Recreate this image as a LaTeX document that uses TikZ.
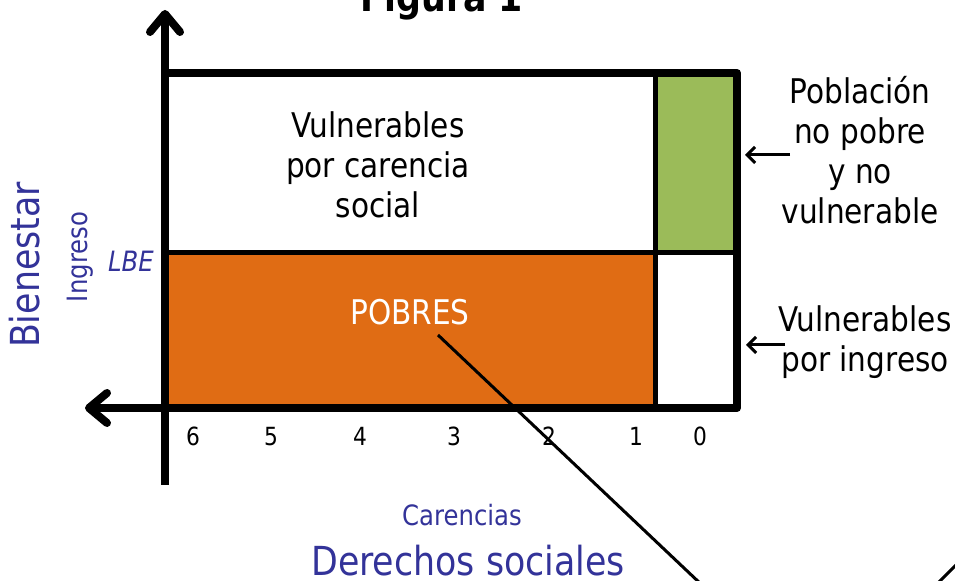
\documentclass[tikz,border=0pt]{standalone}
\usepackage{fontspec}
\setmainfont{DejaVu Sans}[FakeStretch=0.87]
\usepackage{tikz}
\usetikzlibrary{calc}
\usetikzlibrary{arrows.meta}
\usepackage{xcolor}
\definecolor{pobreorange}{RGB}{224,108,20}
\definecolor{nopobregreen}{RGB}{155,187,89}
\definecolor{ejeblue}{RGB}{51,51,153}

\begin{document}
\begin{tikzpicture}[x=0.5pt,y=-0.5pt,
  eje/.style={line width=4pt, -{Straight Barb[length=9pt,width=15pt,round]}},
  flecha/.style={line width=1.5pt, -{Straight Barb[length=4pt,width=8pt]}},
  etiqueta/.style={font=\fontsize{17}{20}\selectfont, align=center, inner sep=0pt},
  azulgrande/.style={text=ejeblue, font=\fontsize{20}{24}\selectfont, inner sep=0pt},
  azulchico/.style={text=ejeblue, font=\fontsize{14}{17}\selectfont, inner sep=0pt}]
\useasboundingbox (0,0) rectangle (955,581);
\clip (0,0) rectangle (955,581);

%%%%%%%%%%%%%%%%%%%%%%%%%%%%%%%%%%%%%%%%%%%%%%%%%%%%%%%%%%%%%% Setup
\coordinate (C) at (165,408);
\node[font=\bfseries\fontsize{20}{24}\selectfont, anchor=base] (titulo) at (442,12) {Figura 1};

%%%%%%%%%%%%%%%%%%%%%%%%%%%%%%%%%%%%%%%%%%%%%%%%%%%%%%%%%%%%%% Cuadrantes
\fill[pobreorange] ($(C)+(0,-155)$) rectangle ($(C)+(490,0)$);
\fill[nopobregreen] ($(C)+(490,-335)$) rectangle ($(C)+(572,-155)$);
\draw[line width=2.5pt] ($(C)+(0,-155)$) -- ($(C)+(572,-155)$);
\draw[line width=2.5pt] ($(C)+(490,-335)$) -- ($(C)+(490,0)$);
\draw[line width=4pt, line join=round] ($(C)+(0,-335)$) rectangle ($(C)+(572,0)$);

\node[etiqueta] (carencia) at ($(C)+(213,-243)$) {Vulnerables\\por carencia\\social};
\node[etiqueta, text=white] (pobres) at ($(C)+(245,-96)$) {POBRES};

%%%%%%%%%%%%%%%%%%%%%%%%%%%%%%%%%%%%%%%%%%%%%%%%%%%%%%%%%%%%%% Ejes
\draw[eje] ($(C)+(0,77)$) -- ($(C)+(0,-398)$);
\draw[eje] ($(C)+(572,0)$) -- ($(C)+(-80,0)$);

\foreach \n/\xx in {6/193,5/271,4/360,3/454,2/549,1/636,0/700}
  \node[font=\fontsize{12.5}{15}\selectfont, anchor=base] (t\n) at (\xx,446) {\n};

\node[azulgrande, rotate=90] (bienestar) at (25,265) {Bienestar};
\node[azulchico, rotate=90] (ingreso) at (80,257) {Ingreso};
\node[azulchico, font=\fontsize{14}{17}\selectfont\itshape] (lbe) at (131,261) {LBE};
\node[azulchico, anchor=base] (carencias) at (462,526) {Carencias};
\node[azulgrande, anchor=base] (derechos) at (468,576) {Derechos sociales};

%%%%%%%%%%%%%%%%%%%%%%%%%%%%%%%%%%%%%%%%%%%%%%%%%%%%%%%%%%%%%% Etiquetas
\node[etiqueta] (nopobre) at (860,150) {Población\\no pobre\\y no\\vulnerable};
\node[etiqueta] (poringreso) at (865,342) {Vulnerables\\por ingreso};
\coordinate (p1) at (745,155);
\coordinate (p2) at (746,345);
\draw[flecha] ($(nopobre.west |- p1)+(9,0)$) -- (p1);
\draw[flecha] ($(poringreso.west |- p2)+(7,0)$) -- (p2);

% lineas hacia el detalle
\coordinate (pobrespie) at (438,335);
\coordinate (detalle) at (760,640);
\draw[line width=1.5pt] (pobrespie) -- (detalle);
\draw[line width=1.5pt] (925,596) -- (975,546);

\end{tikzpicture}
\end{document}
